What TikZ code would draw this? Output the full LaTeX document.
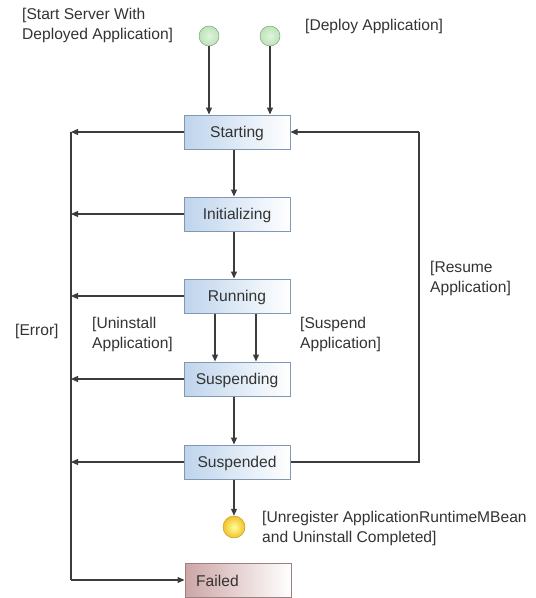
\documentclass[tikz,border=0pt]{standalone}
\usepackage{fontspec}
\setmainfont{Liberation Sans}
\usetikzlibrary{arrows.meta}
\definecolor{boxblue}{HTML}{BED4EC}
\definecolor{boxborder}{HTML}{8098B4}
\definecolor{failpink}{HTML}{CDA6A6}
\definecolor{failborder}{HTML}{9C8080}
\definecolor{linegray}{HTML}{3C3C3C}
\definecolor{greenfill}{HTML}{BCE4B8}
\definecolor{yellowfill}{HTML}{F0C830}
\begin{document}
\begin{tikzpicture}[x=1pt,y=-1pt,
  every node/.style={font=\fontsize{15.6}{20}\selectfont, text=black!80},
  statebox/.style={draw=boxborder, line width=1pt, left color=boxblue, right color=white, minimum width=106pt, minimum height=34pt, inner sep=0pt, text depth=0pt, text height=11pt},
  failbox/.style={draw=failborder, line width=1pt, left color=failpink, right color=white, minimum width=106pt, minimum height=34pt, inner sep=0pt},
  startdot/.style={circle, draw=greenfill!70!black, line width=0.5pt, inner color=white!55!greenfill, outer color=greenfill, minimum size=20pt, inner sep=0pt},
  enddot/.style={circle, draw=yellowfill!80!black, line width=0.5pt, inner color=yellow!40, outer color=yellowfill!90!orange, minimum size=22pt, inner sep=0pt},
  conn/.style={draw=linegray, line width=1.2pt, -{Triangle[length=7pt,width=6pt]}},
  plain/.style={draw=linegray, line width=1.2pt},
  lbl/.style={align=left, anchor=north west, inner sep=0pt}
]
\useasboundingbox (0,0) rectangle (536,598);

\node[statebox] (starting) at (237,132) {Starting};
\node[statebox] (init) at (237,214) {Initializing};
\node[statebox] (running) at (237,296) {Running};
\node[statebox] (suspending) at (237,379) {Suspending};
\node[statebox] (suspended) at (237,462) {Suspended};
\node[failbox] (failed) at (238,580) {};
\node[anchor=west, inner sep=0pt] (failedtxt) at (196,581) {Failed};

\node[startdot] (s1) at (209,36) {};
\node[startdot] (s2) at (270,36) {};
\node[enddot] (e1) at (234,527) {};

\coordinate (lt) at (71,132);
\coordinate (lb) at (71,580);
\coordinate (rt) at (419,132);
\coordinate (rb) at (419,462);

% start arrows
\draw[conn] (s1) -- (s1 |- starting.north);
\draw[conn] (s2) -- (s2 |- starting.north);

% main flow
\draw[conn] (starting.south -| 234,0) -- (init.north -| 234,0);
\draw[conn] (init.south -| 234,0) -- (running.north -| 234,0);
\draw[conn] (running.south -| 215,0) -- (suspending.north -| 215,0);
\draw[conn] (running.south -| 256,0) -- (suspending.north -| 256,0);
\draw[conn] (suspending.south -| 234,0) -- (suspended.north -| 234,0);
\draw[conn] (suspended.south -| 234,0) -- (e1.north);

% error line
\draw[plain] (lt) -- (lb);
\draw[conn] (lb) -- (failed.west);
\draw[conn] (starting.west) -- (lt);
\draw[conn] (init.west) -- (init.west -| lt);
\draw[conn] (running.west) -- (running.west -| lt);
\draw[conn] (suspending.west) -- (suspending.west -| lt);
\draw[conn] (suspended.west) -- (suspended.west -| lt);

% resume
\draw[plain] (suspended.east) -- (rb) -- (rt);
\draw[conn] (rt) -- (starting.east);

% labels
\node[lbl] (l1) at (22,8) {[Start Server With\\Deployed Application]};
\node[lbl] (l2) at (305,19) {[Deploy Application]};
\node[lbl] (l3) at (430,261) {[Resume\\Application]};
\node[lbl] (l4) at (15,324) {[Error]};
\node[lbl] (l5) at (92,317) {[Uninstall\\Application]};
\node[lbl] (l6) at (300,317) {[Suspend\\Application]};
\node[lbl] (l7) at (262,511) {[Unregister ApplicationRuntimeMBean\\and Uninstall Completed]};
\end{tikzpicture}
\end{document}
